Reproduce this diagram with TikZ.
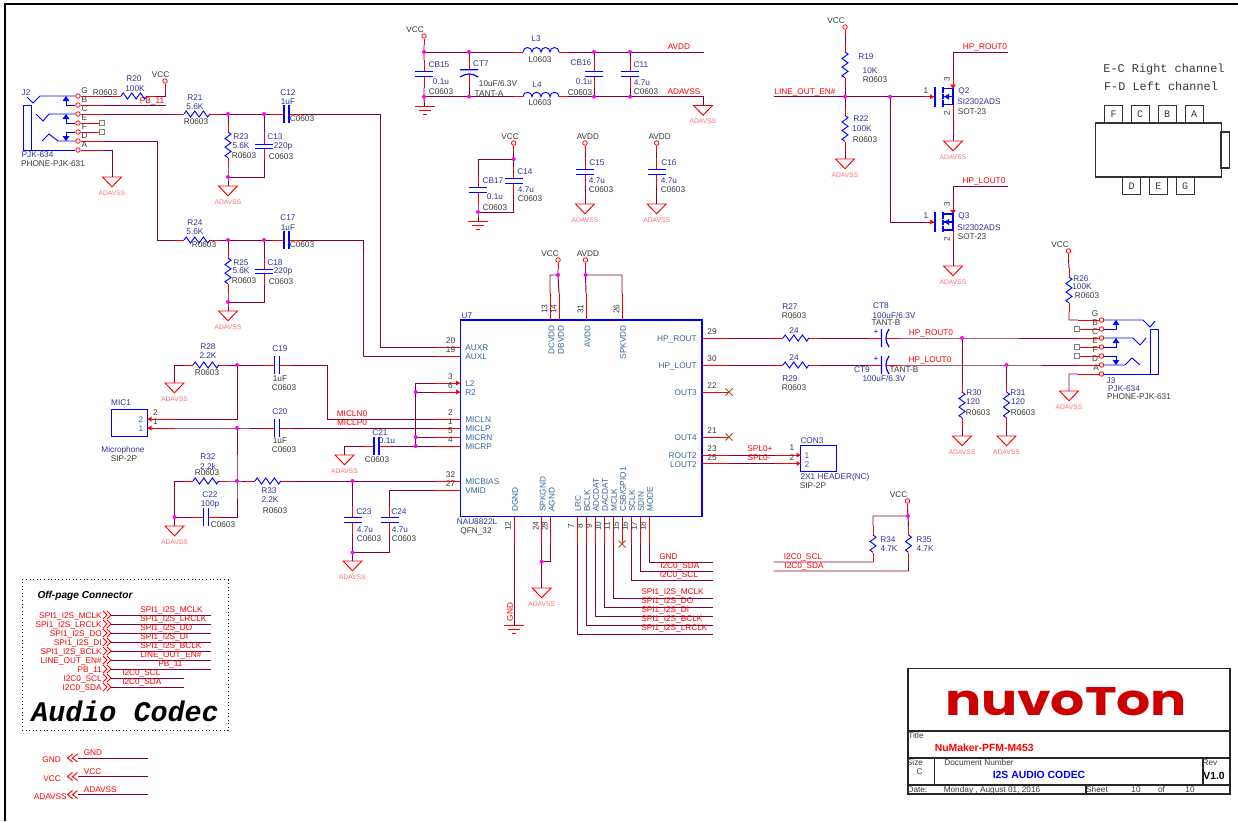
\documentclass[tikz,border=0pt]{standalone}
\usepackage{fontspec}
\setmainfont{Liberation Sans}
\newfontfamily\monof{Liberation Mono}
\newfontfamily\logof{Poppins}
\definecolor{wirec}{HTML}{800040}
\definecolor{refc}{HTML}{333399}
\definecolor{pinc}{HTML}{336699}
\definecolor{fpc}{HTML}{3A3A3A}
\definecolor{pinkc}{HTML}{FF7070}
\definecolor{dotc}{HTML}{FF00FF}
\definecolor{xc}{HTML}{A05020}
\definecolor{logoc}{HTML}{CC0000}
\newcounter{tn}
\pgfdeclarelayer{fgdots}
\pgfsetlayers{main,fgdots}
\tikzset{
  wire/.style={draw=wirec,line width=.7pt},
  stub/.style={draw=red,line width=.7pt},
  comp/.style={draw=blue,line width=.7pt},
  lab/.style={inner sep=0pt,font=\fontsize{6.2}{7}\selectfont,text=fpc},
  fp/.style={text=fpc},
  refd/.style={text=refc},
  pinn/.style={text=pinc},
  net/.style={text=red},
  num/.style={text=fpc},
  pinkl/.style={text=pinkc,font=\fontsize{5}{6}\selectfont},
  monol/.style={text=fpc,font=\monof\fontsize{8.9}{10}\selectfont},
  pincirc/.style={circle,draw=red,fill=white,line width=.6pt,inner sep=0pt,minimum size=3.4pt},
  frame/.style={draw=black,line width=1.5pt},
  tb/.style={draw=black!85,line width=.8pt},
}
\newcommand\lbl[4][fp]{\stepcounter{tn}\node[lab,#1] (t\arabic{tn}) at (#2,#3) {#4};}
\newcommand\Jn[3]{\coordinate (#1) at (#2,#3);\begin{pgfonlayer}{fgdots}\fill[dotc] (#2,#3) circle[radius=1.5pt];\end{pgfonlayer}}
\newcommand\Rhor[3]{%
  \coordinate (#1a) at (#2-22,#3);\coordinate (#1b) at (#2+22,#3);
  \draw[stub] (#1a) -- (#2-13,#3) (#2+13,#3) -- (#1b);
  \draw[comp] (#2-13,#3) -- ++(2.2,-3) -- ++(4.3,6) -- ++(4.3,-6) -- ++(4.3,6) -- ++(4.3,-6) -- ++(4.3,6) -- ++(2.1,-3);}
\newcommand\Rver[3]{%
  \coordinate (#1a) at (#2,#3-22);\coordinate (#1b) at (#2,#3+22);
  \draw[stub] (#1a) -- (#2,#3-13) (#2,#3+13) -- (#1b);
  \draw[comp] (#2,#3-13) -- ++(3,2.2) -- ++(-6,4.3) -- ++(6,4.3) -- ++(-6,4.3) -- ++(6,4.3) -- ++(-6,4.3) -- ++(3,2.1);}
\newcommand\Rshort[3]{%
  \coordinate (#1a) at (#2,#3-18);\coordinate (#1b) at (#2,#3+18);
  \draw[stub] (#1a) -- (#2,#3-9) (#2,#3+9) -- (#1b);
  \draw[comp] (#2,#3-9) -- ++(3,2.2) -- ++(-6,4.3) -- ++(6,4.3) -- ++(-6,4.3) -- ++(3,2.2);}
\newcommand\Chor[3]{%
  \coordinate (#1a) at (#2-14,#3);\coordinate (#1b) at (#2+14,#3);
  \draw[stub] (#1a) -- (#2-2.5,#3) (#2+2.5,#3) -- (#1b);
  \draw[comp,line width=.9pt] (#2-2.5,#3-9) -- (#2-2.5,#3+9) (#2+2.5,#3-9) -- (#2+2.5,#3+9);}
\newcommand\Cver[3]{%
  \coordinate (#1a) at (#2,#3-14);\coordinate (#1b) at (#2,#3+14);
  \draw[stub] (#1a) -- (#2,#3-2.2) (#2,#3+2.2) -- (#1b);
  \draw[comp,line width=.9pt] (#2-9,#3-2.2) -- (#2+9,#3-2.2) (#2-9,#3+2.2) -- (#2+9,#3+2.2);}
\newcommand\CTver[3]{%
  \coordinate (#1a) at (#2,#3-14);\coordinate (#1b) at (#2,#3+14);
  \draw[stub] (#1a) -- (#2,#3-2.2) (#2,#3+2.2) -- (#1b);
  \draw[comp,line width=.9pt] (#2-9,#3-2.2) -- (#2+9,#3-2.2) (#2-9,#3+5) .. controls (#2-3,#3+1) and (#2+3,#3+1) .. (#2+9,#3+5);}
\newcommand\CThor[3]{%
  \coordinate (#1a) at (#2-16,#3);\coordinate (#1b) at (#2+16,#3);
  \draw[stub] (#1a) -- (#2-2.5,#3) (#2+2,#3) -- (#1b);
  \draw[comp,line width=.9pt] (#2-2.5,#3-9) -- (#2-2.5,#3+9) (#2+5,#3-9) .. controls (#2+1,#3-3) and (#2+1,#3+3) .. (#2+5,#3+9);
  \lbl[text=blue]{#2-8}{#3-5.5}{+}}
\newcommand\Lhor[3]{%
  \coordinate (#1a) at (#2-27,#3);\coordinate (#1b) at (#2+27,#3);
  \draw[stub] (#1a) -- (#2-18,#3) (#2+18,#3) -- (#1b);
  \draw[comp] (#2-18,#3) arc[start angle=180,end angle=0,radius=3.375pt] arc[start angle=180,end angle=0,radius=3.375pt] arc[start angle=180,end angle=0,radius=3.375pt] arc[start angle=180,end angle=0,radius=3.375pt];}
\newcommand\Tri[3]{%
  \coordinate (#1) at (#2,#3);
  \draw[stub] (#2-9.5,#3) -- (#2+9.5,#3) -- (#2,#3+9.7) -- cycle;
  \lbl[pinkl]{#2}{#3+16}{ADAVSS}}
\newcommand\Earth[3]{%
  \coordinate (#1) at (#2,#3);
  \draw[stub] (#2-10,#3) -- (#2+10,#3) (#2-6,#3+4) -- (#2+6,#3+4) (#2-2,#3+8) -- (#2+2,#3+8);}
\newcommand\Pwr[5]{%
  \node[pincirc] (#1) at (#2,#3) {};
  \coordinate (#1s) at (#2,#3+9);
  \draw[stub] (#1) -- (#1s);
  \lbl[fp]{#2+#4}{#3-6.5}{#5}}
\newcommand\Xm[3]{%
  \coordinate (#1) at (#2,#3);
  \draw[xc,line width=.7pt] (#2-3.5,#3-3.5) -- (#2+3.5,#3+3.5) (#2-3.5,#3+3.5) -- (#2+3.5,#3-3.5);}
\newcommand\Nmos[3]{%
  \coordinate (#1g) at (#2-28,#3);\coordinate (#1d) at (#2,#3-17);\coordinate (#1s) at (#2,#3+17);
  \draw[stub] (#1g) -- (#2-19,#3) (#1d) -- (#2,#3-8) (#2,#3+8) -- (#1s);
  \fill[red] (#2-19,#3) -- (#2-23,#3-2.5) -- (#2-23,#3+2.5) -- cycle;
  \fill[red] (#2,#3-8) -- (#2-2.8,#3-12) -- (#2+2.8,#3-12) -- cycle;
  \draw[comp,line width=.9pt] (#2-18,#3-10) -- (#2-18,#3+10);
  \draw[comp,line width=1.2pt] (#2-10,#3-10) -- (#2-10,#3-3.5) (#2-10,#3-2.5) -- (#2-10,#3+2.5) (#2-10,#3+3.5) -- (#2-10,#3+10);
  \draw[comp,line width=.9pt] (#2-10,#3-8) -- (#2,#3-8) -- (#2,#3+8) -- (#2-10,#3+8) (#2-10,#3) -- (#2,#3);
  \fill[blue] (#2-9,#3) -- (#2-4,#3-3) -- (#2-4,#3+3) -- cycle;}
\newcommand\Chev[2]{%
  \draw[stub] (#1+5,#2-4) -- (#1,#2) -- (#1+5,#2+4) (#1+10,#2-4) -- (#1+5,#2) -- (#1+10,#2+4);}
\newcommand\ChevR[2]{%
  \draw[stub] (#1,#2-4) -- (#1+4,#2) -- (#1,#2+4) (#1+4,#2-4) -- (#1+8,#2) -- (#1+4,#2+4);}
\begin{document}
\begin{tikzpicture}[x=.75pt,y=-.75pt]
\useasboundingbox (0,0) rectangle (1238,821);
\fill[white] (0,0) rectangle (1238,821);
\coordinate (frameA) at (1238,4);\coordinate (frameB) at (5,4);\coordinate (frameC) at (5,821);
\draw[frame] (frameA) -- (frameB) -- (frameC);

% ---------- J2
\foreach \n/\y in {G/96,B/105,C/114,E/123,F/132,D/141,A/150}{
  \node[pincirc] (J2\n) at (78,\y) {};
  \coordinate (J2\n s) at (103,\y);
}
\foreach \n in {G,B,C,D,A}{\draw[stub] (J2\n) -- (J2\n s);}
\coordinate (J2Eq) at (100,123);\coordinate (J2Fq) at (100,132);
\draw[stub] (J2E) -- (J2Eq) (J2F) -- (J2Fq);
\node[draw=gray,fill=white,inner sep=0pt,minimum size=3.4pt,line width=.5pt] (J2Es) at (102,123) {};
\node[draw=gray,fill=white,inner sep=0pt,minimum size=3.4pt,line width=.5pt] (J2Fs) at (102,132) {};
\draw[comp] (J2G) -- (40,96) -- (33,103) -- (27,97);
\draw[comp] (J2B) -- (66,105) -- (66,99);
\fill[blue] (66,96) -- (62.5,101) -- (69.5,101) -- cycle;
\draw[comp] (J2C) -- (49,114) -- (43,121) -- (36,114);
\draw[comp] (J2E) -- (66,123) -- (66,117);
\fill[blue] (66,114) -- (62.5,119) -- (69.5,119) -- cycle;
\draw[comp] (J2F) -- (66,132) -- (66,138);
\fill[blue] (66,141) -- (62.5,136) -- (69.5,136) -- cycle;
\draw[comp] (J2D) -- (58,141) -- (49,134) -- (42,141);
\draw[comp] (J2A) -- (23,150) -- (23,105) -- (31,105) -- (31,150);
\lbl[num]{84.5}{91}{G}\lbl[num]{84.5}{100}{B}\lbl[num]{84.5}{109}{C}\lbl[num]{84.5}{118}{E}
\lbl[num]{84.5}{127}{F}\lbl[num]{84.5}{136}{D}\lbl[num]{84.5}{144.5}{A}
\lbl[refd]{26}{93}{J2}\lbl[refd]{37.5}{155}{PJK-634}\lbl[fp]{53}{164}{PHONE-PJK-631}
\Tri{TJ2}{112}{177}
\draw[wire] (J2As) -- (112,150) -- (TJ2);
\lbl[net]{152}{101}{PB\_11}
\coordinate (PBend) at (166,105);
\draw[wire] (J2Bs) -- (PBend);
\Pwr{VA}{165}{81}{-4.5}{VCC}
\Rhor{R20}{134}{96}
\draw[wire] (J2Gs) -- (R20a) (R20b) -| (VAs);
\lbl[refd]{134}{79}{R20}\lbl[refd]{135}{89}{100K}\lbl[fp]{105}{93}{R0603}

% ---------- U7
\coordinate (U7nw) at (460.3,320);\coordinate (U7se) at (702,516.7);
\draw[comp,line width=1pt] (U7nw) rectangle (U7se);
\lbl[refd]{467}{316}{U7}\lbl[refd]{477}{522}{NAU8822L}\lbl[fp]{476}{531}{QFN\_32}
\foreach \n/\t/\y/\p in {AUXR/AUXR/347/20,AUXL/AUXL/356/19,L2/L2/383/3,R2/R2/392/6,MICLN/MICLN/419/2,MICLP/MICLP/428/1,MICRN/MICRN/437/5,MICRP/MICRP/446/4,MICBIAS/MICBIAS/481/32,VMID/VMID/490/27}{
  \coordinate (U\n) at (435,\y);
  \draw[stub] (U\n) -- (460,\y);
  \lbl[pinn,anchor=west]{465}{\y+1}{\t}
  \lbl[num]{450.5}{\y-6}{\p}
}
\fill[red] (460,383) -- (456,380.5) -- (456,385.5) -- cycle;
\fill[red] (460,392) -- (456,389.5) -- (456,394.5) -- cycle;
\foreach \n/\t/\y/\p in {HPR/HP\_ROUT/338/29,HPL/HP\_LOUT/365/30,OUT3/OUT3/392/22,OUT4/OUT4/437/21,ROUT2/ROUT2/455/23,LOUT2/LOUT2/463.5/25}{
  \coordinate (U\n) at (729,\y);
  \draw[stub] (702,\y) -- (U\n);
  \lbl[pinn,anchor=east]{697}{\y+1}{\t}
  \lbl[num]{712}{\y-6}{\p}
}
\Xm{XO3}{729}{392}\Xm{XO4}{729}{437}
\foreach \n/\x/\p in {DC/550/13,DB/559/14,AV/586/31,SP/622/26}{
  \coordinate (U\n) at (\x,293);
  \draw[stub] (U\n) -- (\x,320);
  \lbl[num,rotate=90]{\x-5.5}{309}{\p}
}
\lbl[pinn,rotate=90,anchor=east]{551.5}{325}{DCVDD}\lbl[pinn,rotate=90,anchor=east]{561}{325}{DBVDD}
\lbl[pinn,rotate=90,anchor=east]{587.5}{325}{AVDD}\lbl[pinn,rotate=90,anchor=east]{623}{325}{SPKVDD}
\foreach \n/\t/\x/\p in {DG/DGND/514/12,SG/SPKGND/541.7/24,AG/AGND/550.7/28,LR/LRC/577/7,BC/BCLK/586/8,AD/ADCDAT/595/9,DA/DACDAT/604/10,MC/MCLK/613/11,CS/CSB\slash GPIO1/622/15,SC/SCLK/631/16,SI/SDIN/640/17,MO/MODE/649/18}{
  \coordinate (U\n) at (\x,544);
  \draw[stub] (\x,516.7) -- (U\n);
  \lbl[pinn,rotate=90,anchor=west]{\x+1}{512}{\t}
  \lbl[num,rotate=90]{\x-6}{526}{\p}
}
\Xm{XCS}{622}{544}

% top power of U7
\Pwr{VB}{558}{260}{-8}{VCC}
\Pwr{VC}{585.5}{260}{2.5}{AVDD}
\Jn{JVB}{558}{275}\Jn{JVC}{585.5}{275}
\draw[wire] (VBs) -- (JVB) -- (UDB) (JVB) -| (UDC);
\draw[wire] (VCs) -- (JVC) -- (UAV) (JVC) -| (USP);

% bottom nets of U7
\coordinate (eMO) at (713,562);\coordinate (eSI) at (713,571);\coordinate (eSC) at (713,580);
\coordinate (eMC) at (713,598);\coordinate (eDA) at (713,607);\coordinate (eAD) at (713,616);
\coordinate (eBC) at (713,625);\coordinate (eLR) at (713,634);
\draw[wire] (UMO) |- (eMO) (USI) |- (eSI) (USC) |- (eSC) (UMC) |- (eMC) (UDA) |- (eDA) (UAD) |- (eAD) (UBC) |- (eBC) (ULR) |- (eLR);
\lbl[net,anchor=west]{659}{557}{GND}\lbl[net,anchor=west]{660}{566}{I2C0\_SDA}\lbl[net,anchor=west]{659.5}{575}{I2C0\_SCL}
\lbl[net,anchor=west]{641}{592}{SPI1\_I2S\_MCLK}\lbl[net,anchor=west]{641}{601}{SPI1\_I2S\_DO}\lbl[net,anchor=west]{641}{610}{SPI1\_I2S\_DI}
\lbl[net,anchor=west]{641}{619}{SPI1\_I2S\_BCLK}\lbl[net,anchor=west]{641}{628}{SPI1\_I2S\_LRCLK}
\Tri{TSG}{541.7}{588}
\Jn{JSG}{541.7}{561.7}
\draw[wire] (USG) -- (JSG) -- (TSG) (UAG) |- (JSG);
\Earth{EDG}{514}{625}
\draw[wire] (UDG) -- (EDG);
\lbl[net,rotate=90]{510}{612}{GND}

% ---------- audio input R21/C12 chain
\Rhor{R21}{197}{114}\Chor{C12}{286.5}{114}
\Jn{J21}{228}{114}\Jn{J13}{264}{114}
\draw[wire] (J2Cs) -- (R21a) (R21b) -- (C12a);
\draw[wire] (C12b) -- (380,114) -- (380,347) -- (UAUXR);
\Rver{R23}{228}{145}\Cver{C13}{264}{146.3}
\Jn{J23}{228}{177}\Tri{T23}{228}{186}
\draw[wire] (J21) -- (R23a) (R23b) -- (J23) -- (T23) (J13) -- (C13a) (C13b) |- (J23);
\lbl[refd]{195}{98}{R21}\lbl[refd]{195}{107}{5.6K}\lbl[fp]{196}{122}{R0603}
\lbl[refd]{288}{93}{C12}\lbl[refd]{288}{102}{1uF}\lbl[fp]{302}{119}{C0603}
\lbl[refd]{241}{137}{R23}\lbl[refd]{241}{146}{5.6K}\lbl[fp]{244}{156}{R0603}
\lbl[refd]{275}{137}{C13}\lbl[refd]{283}{146}{220p}\lbl[fp]{281}{157}{C0603}

\Rhor{R24}{197}{240}\Chor{C17}{286.5}{240}
\Jn{J24}{228}{240}\Jn{J18}{264}{240}
\draw[wire] (J2Ds) -- (157,141) -- (157,240) -- (R24a) (R24b) -- (C17a);
\draw[wire] (C17b) -- (363,240) -- (363,356) -- (UAUXL);
\Rver{R25}{228}{271}\Cver{C18}{264}{271.5}
\Jn{J25}{228}{302}\Tri{T25}{228}{311}
\draw[wire] (J24) -- (R25a) (R25b) -- (J25) -- (T25) (J18) -- (C18a) (C18b) |- (J25);
\lbl[refd]{195}{223}{R24}\lbl[refd]{195}{232}{5.6K}\lbl[fp]{204}{245}{R0603}
\lbl[refd]{288}{218}{C17}\lbl[refd]{288}{228}{1uF}\lbl[fp]{302}{245}{C0603}
\lbl[refd]{241}{263}{R25}\lbl[refd]{241}{271}{5.6K}\lbl[fp]{244}{281}{R0603}
\lbl[refd]{275}{263}{C18}\lbl[refd]{283}{271}{220p}\lbl[fp]{281}{282}{C0603}

% ---------- top power
\Pwr{VD}{424}{36}{-9}{VCC}
\Jn{JT1}{424}{52}\Jn{JB1}{424}{96.7}\Jn{JT2}{469}{52}\Jn{JB2}{469}{96.7}
\Cver{CB15}{424}{74}\CTver{CT7}{469}{72}
\Lhor{L3}{541}{52}\Lhor{L4}{541}{96.7}
\Jn{JT3}{594}{52}\Jn{JB3}{594}{96.7}\Jn{JT4}{630}{52}\Jn{JB4}{630}{96.7}
\Cver{CB16}{594}{74}\Cver{C11}{630}{74}
\coordinate (AVDDe) at (704,52);
\Earth{E1}{424.5}{106}\Tri{TA}{703}{105.5}
\draw[wire] (VDs) -- (JT1) -- (CB15a) (CB15b) -- (JB1) -- (E1);
\draw[wire] (JT1) -- (L3a) (JT2) -- (CT7a) (CT7b) -- (JB2);
\draw[wire] (JB1) -- (L4a);
\draw[wire] (L3b) -- (AVDDe) (JT3) -- (CB16a) (CB16b) -- (JB3) (JT4) -- (C11a) (C11b) -- (JB4);
\draw[wire] (L4b) -- (703,96.7) -- (TA);
\lbl[refd]{439}{65}{CB15}\lbl[refd]{441}{81.5}{0.1u}\lbl[fp]{441}{92}{C0603}
\lbl[refd]{481}{64}{CT7}\lbl[fp]{498}{84}{10uF/6.3V}\lbl[fp]{489}{94}{TANT-A}
\lbl[refd]{536}{39}{L3}\lbl[fp]{540}{60}{L0603}\lbl[refd]{537}{85}{L4}\lbl[fp]{540}{103}{L0603}
\lbl[refd]{581}{63}{CB16}\lbl[refd]{584}{82}{0.1u}\lbl[fp]{580}{93}{C0603}
\lbl[refd]{641}{65}{C11}\lbl[refd]{642}{83}{4.7u}\lbl[fp]{646}{92}{C0603}
\lbl[net]{679}{47}{AVDD}\lbl[net]{684}{92}{ADAVSS}

\Pwr{VE}{513.7}{143}{-3.5}{VCC}
\Jn{JE1}{513.7}{159}\Jn{JE2}{478}{212}
\Cver{C14}{513.7}{181}\Cver{CB17}{478}{190}
\Earth{E2}{478}{221.5}
\draw[wire] (VEs) -- (JE1) -- (C14a) (JE1) -| (CB17a) (CB17b) -- (JE2) -- (E2) (C14b) |- (JE2);
\lbl[refd]{493}{181}{CB17}\lbl[refd]{495}{197}{0.1u}\lbl[fp]{495}{208}{C0603}
\lbl[refd]{525}{172}{C14}\lbl[refd]{526}{190}{4.7u}\lbl[fp]{530}{199}{C0603}

\Pwr{VF}{585}{143}{3}{AVDD}\Cver{C15}{585}{172}\Tri{TC15}{585}{204}
\draw[wire] (VFs) -- (C15a) (C15b) -- (TC15);
\lbl[refd]{597}{163}{C15}\lbl[refd]{597}{181}{4.7u}\lbl[fp]{601}{190}{C0603}
\Pwr{VG}{656.7}{143}{3}{AVDD}\Cver{C16}{656.7}{172}\Tri{TC16}{656.7}{204}
\draw[wire] (VGs) -- (C16a) (C16b) -- (TC16);
\lbl[refd]{669}{163}{C16}\lbl[refd]{669}{181}{4.7u}\lbl[fp]{673}{190}{C0603}

% ---------- MOSFETs
\Pwr{VH}{845}{27}{-9}{VCC}
\Rver{R19}{845}{65}\Rver{R22}{845}{128.5}
\Jn{JL1}{845}{96.7}\Jn{JL2}{890}{96.7}
\coordinate (LOEs) at (774,96.7);
\Tri{TR22}{845}{159}
\Nmos{Q2}{953}{96.7}\Nmos{Q3}{953}{222}
\Tri{TQ2}{953}{141}\Tri{TQ3}{953}{266}
\coordinate (HRe) at (1008,52);\coordinate (HLe) at (1008,186);
\draw[wire] (VHs) -- (R19a) (R19b) -- (JL1) -- (R22a) (R22b) -- (TR22);
\draw[wire] (LOEs) -- (Q2g) (JL2) |- (Q3g);
\draw[wire] (Q2d) |- (HRe) (Q3d) |- (HLe) (Q2s) -- (TQ2) (Q3s) -- (TQ3);
\lbl[refd]{866}{57}{R19}\lbl[refd]{870}{71}{10K}\lbl[fp]{875}{80}{R0603}
\lbl[refd]{861}{119}{R22}\lbl[refd]{862}{129}{100K}\lbl[fp]{865}{140}{R0603}
\lbl[net]{805}{92}{LINE\_OUT\_EN\#}
\lbl[net]{985}{47}{HP\_ROUT0}\lbl[net]{984}{181}{HP\_LOUT0}
\lbl[num]{926}{91}{1}\lbl[num,rotate=90]{947}{79}{3}\lbl[num,rotate=90]{947}{113}{2}
\lbl[num]{926}{216}{1}\lbl[num,rotate=90]{947}{204}{3}\lbl[num,rotate=90]{947}{239}{2}
\lbl[refd]{964}{91}{Q2}\lbl[refd]{979}{102}{SI2302ADS}\lbl[fp]{972}{112}{SOT-23}
\lbl[refd]{964}{216}{Q3}\lbl[refd]{979}{228}{SI2302ADS}\lbl[fp]{972}{237}{SOT-23}

% ---------- connector sketch
\lbl[monol]{1164}{69}{E-C Right channel}\lbl[monol]{1161}{86}{F-D Left channel}
\node[draw=black!80,line width=.8pt,minimum width=94pt,minimum height=40.5pt,inner sep=0pt] (JACK) at (1158.4,150) {};
\node[draw=black!80,line width=.8pt,minimum width=6.4pt,minimum height=27pt,inner sep=0pt] (JTAB) at (1225.2,150) {};
\foreach \t/\x in {F/1113.5,C/1140,B/1167,A/1194}{
  \node[draw=black!80,line width=.7pt,minimum width=13.5pt,minimum height=13.2pt,inner sep=0pt,font=\monof\fontsize{7.5}{8}\selectfont,text=fpc] (Jk\t) at (\x,114.2) {\t};
}
\foreach \t/\x in {D/1131.5,E/1158.3,G/1185}{
  \node[draw=black!80,line width=.7pt,minimum width=13.5pt,minimum height=13.2pt,inner sep=0pt,font=\monof\fontsize{7.5}{8}\selectfont,text=fpc] (Jk\t) at (\x,186) {\t};
}

% ---------- MIC section
\node[comp,minimum width=27pt,minimum height=19.7pt,inner sep=0pt] (MIC) at (129.5,423) {};
\coordinate (M2) at (175,419);\coordinate (M1) at (175,428);
\draw[stub] (147.5,419) -- (M2) (147.5,428) -- (M1);
\fill[red] (147.5,419) -- (151.5,416.5) -- (151.5,421.5) -- cycle;
\fill[red] (147.5,428) -- (151.5,425.5) -- (151.5,430.5) -- cycle;
\lbl[refd]{121}{403}{MIC1}\lbl[refd]{123}{450}{Microphone}\lbl[fp]{124}{459}{SIP-2P}
\lbl[pinn]{141}{420}{2}\lbl[pinn]{141}{429}{1}\lbl[num]{155.5}{413}{2}\lbl[num]{155.5}{422}{1}
\Rhor{R28}{206}{365}\Chor{C19}{276.8}{365}\Tri{TR28}{174.5}{383}
\Jn{JM1}{237}{365}\Jn{JM2}{237}{428}\Jn{JM3}{237}{481}
\draw[wire] (M2) -- (237,419) -- (JM1) -- (R28b) (JM1) -- (C19a) (R28a) -| (TR28);
\draw[wire] (C19b) -- (327,365) -- (327,419) -- (UMICLN);
\Chor{C20}{276.8}{428}
\draw[wire] (M1) -- (JM2) -- (C20a) (C20b) -- (UMICLP);
\Rhor{R32}{206}{481}\Rhor{R33}{268}{481}\Chor{C22}{206}{517}
\Jn{JM4}{174.5}{517}\Jn{JM5}{352.5}{481}\Tri{TR32}{174.5}{526}
\draw[wire] (JM2) -- (JM3) -- (237,517) -- (C22b) (C22a) -- (JM4) -- (TR32) (R32a) -| (JM4);
\draw[wire] (R32b) -- (JM3) -- (R33a) (R33b) -- (UMICBIAS);
\Cver{C23}{352.5}{520}\Cver{C24}{389.5}{520}
\Jn{JM6}{352.5}{552.5}\Tri{TC23}{352.5}{561}
\draw[wire] (JM5) -- (C23a) (C23b) -- (JM6) -- (TC23) (UVMID) -| (C24a) (C24b) |- (JM6);
\Jn{JM7}{415.7}{392}\Jn{JM8}{415.7}{437}\Jn{JM9}{415.7}{446}
\draw[wire] (UL2) -- (415.7,383) -- (JM9) (JM7) -- (UR2) (JM8) -- (UMICRN) (JM9) -- (UMICRP);
\Chor{C21}{376.5}{446}\Tri{TC21}{344.5}{455}
\draw[wire] (C21b) -- (JM9) (C21a) -| (TC21);
\lbl[refd]{208}{347}{R28}\lbl[refd]{208}{356}{2.2K}\lbl[fp]{207}{373}{R0603}
\lbl[refd]{280}{349}{C19}\lbl[fp]{280}{379}{1uF}\lbl[fp]{284}{388}{C0603}
\lbl[refd]{280}{412}{C20}\lbl[fp]{280}{441}{1uF}\lbl[fp]{284}{450}{C0603}
\lbl[refd]{208}{457}{R32}\lbl[refd]{208}{466}{2.2k}\lbl[fp]{207}{473}{R0603}
\lbl[refd]{269}{491}{R33}\lbl[refd]{270}{500}{2.2K}\lbl[fp]{275}{511}{R0603}
\lbl[refd]{210}{495}{C22}\lbl[refd]{210}{504}{100p}\lbl[fp]{223}{525}{C0603}
\lbl[refd]{364}{512}{C23}\lbl[refd]{365}{530}{4.7u}\lbl[fp]{369}{539}{C0603}
\lbl[refd]{399}{512}{C24}\lbl[refd]{400}{530}{4.7u}\lbl[fp]{404}{539}{C0603}
\lbl[refd]{380}{433}{C21}\lbl[refd]{387}{441}{0.1u}\lbl[fp]{377}{460}{C0603}
\lbl[net]{352}{414}{MICLN0}\lbl[net]{352}{423}{MICLP0}

% ---------- HP outputs
\Rhor{R27}{796}{338}\Rhor{R29}{796}{365}
\CThor{CT8}{884}{338}\CThor{CT9}{884}{365}
\Jn{JH1}{962}{338}\Jn{JH2}{1006.5}{365}
\Rver{R30}{962}{405}\Rver{R31}{1006.5}{405}
\Tri{TR30}{962}{436}\Tri{TR31}{1006.5}{436}
\foreach \n/\y in {G/320,B/329,C/338,E/347,F/356,D/365,A/374}{
  \node[pincirc] (J3\n) at (1101.5,\y) {};
  \coordinate (J3\n s) at (1078,\y);
}
\foreach \n in {G,C,D,A}{\draw[stub] (J3\n) -- (J3\n s);}
\foreach \n/\y in {B/329,E/347,F/356}{
  \draw[stub] (J3\n) -- (J3\n s);
  \node[draw=gray,fill=white,inner sep=0pt,minimum size=3.4pt,line width=.5pt] (J3\n q) at (1077,\y) {};
}
\draw[comp] (J3G) -- (1143,320) -- (1150,327) -- (1155,321);
\draw[comp] (J3B) -- (1116,329) -- (1116,323);
\fill[blue] (1116,320) -- (1112.5,325) -- (1119.5,325) -- cycle;
\draw[comp] (J3C) -- (1133,338) -- (1140,345) -- (1146,338);
\draw[comp] (J3E) -- (1116,347) -- (1116,341);
\fill[blue] (1116,338) -- (1112.5,343) -- (1119.5,343) -- cycle;
\draw[comp] (J3F) -- (1116,356) -- (1116,362);
\fill[blue] (1116,365) -- (1112.5,360) -- (1119.5,360) -- cycle;
\draw[comp] (J3D) -- (1125,365) -- (1132,358) -- (1140,365);
\draw[comp] (J3A) -- (1158.7,374) -- (1158.7,329.5) -- (1150.7,329.5) -- (1150.7,374);
\Pwr{VJ}{1068.5}{251}{-8.5}{VCC}
\Rver{R26}{1069}{290}\Tri{TJ3}{1069}{391}
\draw[wire] (VJs) -- (R26a) (R26b) |- (J3Gs) (J3As) -| (TJ3);
\draw[wire] (UHPR) -- (R27a) (R27b) -- (CT8a) (CT8b) -- (JH1) -- (J3Cs) (JH1) -- (R30a) (R30b) -- (TR30);
\draw[wire] (UHPL) -- (R29a) (R29b) -- (CT9a) (CT9b) -- (JH2) -- (J3Ds) (JH2) -- (R31a) (R31b) -- (TR31);
\lbl[refd]{790}{307}{R27}\lbl[fp]{794}{316}{R0603}\lbl[refd]{794}{331}{24}
\lbl[refd]{790}{379}{R29}\lbl[fp]{794}{388}{R0603}\lbl[refd]{794}{358}{24}
\lbl[refd]{881}{306}{CT8}\lbl[refd]{894}{316}{100uF/6.3V}\lbl[fp]{886}{323}{TANT-B}
\lbl[refd]{862}{370}{CT9}\lbl[fp]{904}{370}{TANT-B}\lbl[refd]{884}{379}{100uF/6.3V}
\lbl[net]{931}{333}{HP\_ROUT0}\lbl[net]{930}{360}{HP\_LOUT0}
\lbl[refd]{974}{393}{R30}\lbl[refd]{973}{402}{120}\lbl[fp]{978}{413}{R0603}
\lbl[refd]{1018}{393}{R31}\lbl[refd]{1018}{402}{120}\lbl[fp]{1023}{413}{R0603}
\lbl[refd]{1081}{279}{R26}\lbl[refd]{1082}{287}{100K}\lbl[fp]{1087}{296}{R0603}
\lbl[num]{1095}{314}{G}\lbl[num]{1095}{323}{B}\lbl[num]{1095}{332}{C}\lbl[num]{1095}{341}{E}
\lbl[num]{1095}{350}{F}\lbl[num]{1095}{359}{D}\lbl[num]{1096}{368}{A}
\lbl[refd]{1111}{381}{J3}\lbl[refd]{1124}{389}{PJK-634}\lbl[fp]{1139}{397}{PHONE-PJK-631}

% ---------- CON3
\node[comp,minimum width=27pt,minimum height=20pt,inner sep=0pt] (CON3) at (818.5,458.5) {};
\coordinate (Cn1) at (775,455);\coordinate (Cn2) at (775,463.5);
\draw[stub] (Cn1) -- (800.5,455) (Cn2) -- (800.5,463.5);
\fill[red] (800.5,455) -- (796.5,452.5) -- (796.5,457.5) -- cycle;
\fill[red] (800.5,463.5) -- (796.5,461) -- (796.5,466) -- cycle;
\draw[wire] (UROUT2) -- (Cn1) (ULOUT2) -- (Cn2);
\lbl[refd]{812}{441}{CON3}\lbl[refd]{835}{477}{2X1 HEADER(NC)}\lbl[fp]{813}{486}{SIP-2P}
\lbl[num]{792}{448}{1}\lbl[num]{792}{458}{2}\lbl[pinn]{807}{456}{1}\lbl[pinn]{807}{465}{2}
\lbl[net]{760}{449}{SPL0+}\lbl[net]{759}{458}{SPL0-}

% ---------- I2C pull-ups
\Pwr{VK}{907.5}{501}{-9}{VCC}
\Jn{JK}{908}{516}
\Rshort{R34}{873}{544}\Rshort{R35}{908.5}{544}
\coordinate (SCLe) at (773.5,562);\coordinate (SDAe) at (773.5,571);
\draw[wire] (VKs) -- (JK) -- (R35a) (JK) -| (R34a) (R34b) -- (SCLe) (R35b) |- (SDAe);
\lbl[refd]{888}{540}{R34}\lbl[refd]{889}{549}{4.7K}\lbl[refd]{924}{540}{R35}\lbl[refd]{925}{549}{4.7K}
\lbl[net]{803}{557}{I2C0\_SCL}\lbl[net]{804}{566}{I2C0\_SDA}

% ---------- off-page box
\node[draw=black,dotted,line width=.7pt,minimum width=154.5pt,minimum height=113.2pt,inner sep=0pt] (OFF) at (125,655.2) {};
\lbl[text=black,font=\bfseries\itshape\fontsize{7.6}{9}\selectfont]{85}{596}{Off-page Connector}
\foreach \a/\y/\e/\tx in {SPI1\_I2S\_MCLK/615/211/140,SPI1\_I2S\_LRCLK/624/211/140,SPI1\_I2S\_DO/633/211/140,SPI1\_I2S\_DI/642/211/140,SPI1\_I2S\_BCLK/651/211/140,LINE\_OUT\_EN\#/660/211/140,PB\_11/669/211/158,I2C0\_SCL/678/184/122,I2C0\_SDA/687/184/122}{
  \lbl[net,anchor=east]{102}{\y+1}{\a}
  \lbl[net,anchor=west]{\tx}{\y-5}{\a}
  \ChevR{103}{\y}
  \draw[wire] (111,\y) -- (\e,\y);
}
\lbl[text=black,font=\monof\bfseries\itshape\fontsize{21.3}{24}\selectfont]{125}{711}{Audio Codec}
\foreach \t/\y/\xr in {GND/758/61,VCC/776.5/61,ADAVSS/794.5/67}{
  \lbl[net,anchor=east]{\xr}{\y+2}{\t}
  \lbl[net,anchor=west]{83.5}{\y-5}{\t}
  \Chev{67.5}{\y}
  \draw[wire] (77.5,\y) -- (148,\y);
}

% ---------- title block
\coordinate (TBa) at (908,668.7);\coordinate (TBb) at (1230,794);
\draw[tb] (TBa) rectangle (TBb);
\draw[tb] (908,731) -- (1230,731) (908,758) -- (1230,758) (908,785) -- (1230,785);
\draw[tb] (934.5,758) -- (934.5,785) (1203,758) -- (1203,785) (1086,785) -- (1086,794);
\node[inner sep=0pt,text=logoc] (LOGO) at (1066,702) {\resizebox{181.5pt}{21pt}{\logof\bfseries nuvo\scalebox{1}[.92]{T}on}};
\lbl[fp]{916}{736}{Title}
\lbl[text=red,font=\bfseries\fontsize{7.8}{9}\selectfont,anchor=west]{934.5}{748}{NuMaker-PFM-M453}
\lbl[fp]{915}{763}{Size}\lbl[fp]{919.5}{772}{C}\lbl[fp]{979}{763}{Document Number}
\lbl[text=blue,font=\bfseries\fontsize{7.8}{9}\selectfont]{1039}{775}{I2S AUDIO CODEC}
\lbl[fp]{1210}{763}{Rev}\lbl[text=black,font=\bfseries\fontsize{7.8}{9}\selectfont]{1214}{776}{V1.0}
\lbl[fp]{917.5}{790}{Date:}\lbl[fp]{992}{790}{Monday , August 01, 2016}\lbl[fp]{1097}{790}{Sheet}
\lbl[fp]{1136}{790}{10}\lbl[fp]{1161.5}{790}{of}\lbl[fp]{1190}{790}{10}
\end{tikzpicture}
\end{document}
